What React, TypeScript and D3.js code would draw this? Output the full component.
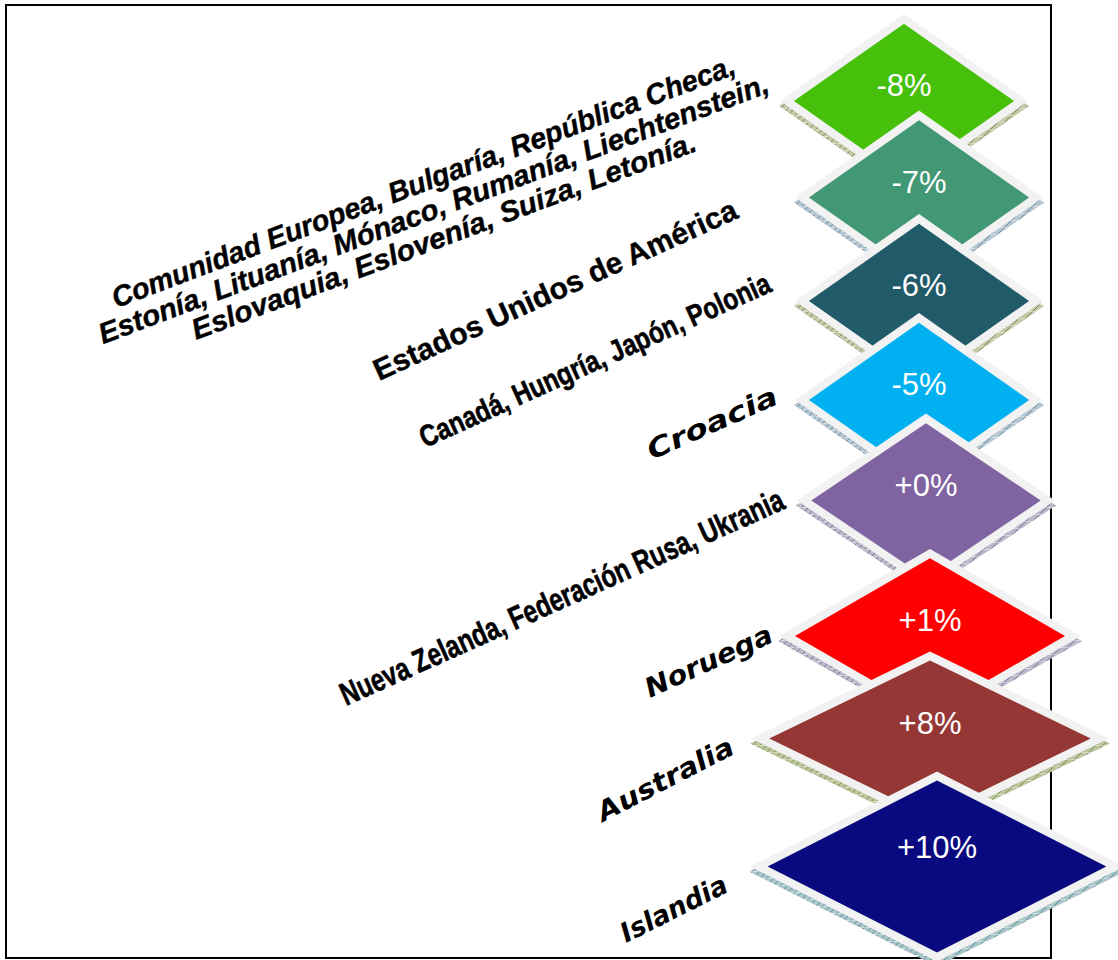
import React from "react";
import * as d3 from "d3";

// ---- data ----
const values = [-8, -7, -6, -5, 0, 1, 8, 10];
const countryGroups: string[][] = [
  [
    "Comunidad Europea, Bulgaría, República Checa,",
    "Estonía, Lituanía, Mónaco, Rumanía, Liechtenstein,",
    "Eslovaquia, Eslovenía, Suiza, Letonía.",
  ],
  ["Estados Unidos de América"],
  ["Canadá, Hungría, Japón, Polonia"],
  ["Croacia"],
  ["Nueva Zelanda, Federación Rusa, Ukrania"],
  ["Noruega"],
  ["Australia"],
  ["Islandia"],
];

// ---- styles ----
const fillColors = ["#46c00a", "#429874", "#215a68", "#00b0f0", "#8064a2", "#ff0000", "#953735", "#0a0a80"];
const sideBase = ["#c4c8a6", "#b5c7d2", "#c4c8a6", "#b5c7d2", "#bdb7ca", "#bdb7ca", "#bac59b", "#a9c5ca"];
const sideLine = ["#7d825c", "#6b8796", "#7d825c", "#6b8796", "#786f90", "#786f90", "#7d8b58", "#5e8b92"];
const borderColor = "#f2f2f2";

const W = 1118;
const H = 960;

// layout scales
const rowX = d3.scaleLinear().domain(d3.range(8)).range([904, 919, 919, 919, 926, 930, 930, 937]);
const rowY = d3.scaleLinear().domain(d3.range(8)).range([101, 197.5, 301, 400, 500.5, 636, 738.5, 866.5]);
const halfW = d3.scaleLinear().domain([-8, -5, 0, 1, 8, 10]).range([124, 124, 129, 151, 179, 187]);
const halfH = d3.scaleLinear().domain([8, 10]).range([87, 95]).clamp(true);
const fmt = (v: number) => d3.format("+d")(v).replace("−", "-") + "%";

type LabelLayout = {
  x: number; y: number; angle: number; size: number; family: string;
  italic: boolean; lengths: number[]; anchor: "start" | "middle"; spacing?: number; stroke?: number;
};
const ARIAL = "'Liberation Sans', Arial, Helvetica, sans-serif";
const NARROW = "'Liberation Sans Narrow', 'Arial Narrow', 'Liberation Sans', Arial, sans-serif";
const WIDE = "'DejaVu Sans', Verdana, sans-serif";
const labelLayout: LabelLayout[] = [
  { x: 437, y: 218, angle: 20.7, size: 29, family: ARIAL, italic: true, lengths: [664, 714, 537], anchor: "middle", spacing: 29, stroke: 0.4 },
  { x: 379, y: 381, angle: 24.4, size: 30, family: ARIAL, italic: false, lengths: [396], anchor: "start", stroke: 0.4 },
  { x: 425, y: 448, angle: 24.3, size: 30, family: NARROW, italic: false, lengths: [382], anchor: "start", stroke: 0.6 },
  { x: 652, y: 460, angle: 24.0, size: 27, family: WIDE, italic: true, lengths: [140], anchor: "start" },
  { x: 346, y: 706, angle: 24.2, size: 32, family: NARROW, italic: false, lengths: [483], anchor: "start", stroke: 0.6 },
  { x: 650, y: 698, angle: 24.5, size: 27, family: WIDE, italic: true, lengths: [137], anchor: "start" },
  { x: 603, y: 822, angle: 27.4, size: 27, family: WIDE, italic: true, lengths: [150], anchor: "start" },
  { x: 626, y: 943, angle: 26.6, size: 27, family: WIDE, italic: true, lengths: [116], anchor: "start" },
];

function rhombus(cx: number, cy: number, hw: number, hh: number) {
  const pts: [number, number][] = [[cx, cy - hh], [cx + hw, cy], [cx, cy + hh], [cx - hw, cy]];
  return d3.line()(pts.concat([pts[0]])) + "Z";
}

export default function App() {
  const border = 8;
  return (
    <div style={{ position: "absolute", left: 0, top: 0 }}>
      <svg width={W} height={H} viewBox={`0 0 ${W} ${H}`} style={{ display: "block", background: "#fff" }}>
        <defs>
          {sideBase.map((c, i) => (
            <pattern key={i} id={`hatch${i}`} patternUnits="userSpaceOnUse" width={7} height={7}>
              <rect width={7} height={7} fill={c} />
              <path d="M0,7 L7,0" stroke={sideLine[i]} strokeWidth={0.9} />
              <path d="M0,3.5 L7,3.5" stroke="#ffffff" strokeOpacity={0.5} strokeWidth={0.8} />
            </pattern>
          ))}
        </defs>
        <rect x={6} y={5} width={1045} height={953} fill="none" stroke="#000" strokeWidth={2} />

        {countryGroups.map((lines, i) => {
          const L = labelLayout[i];
          const n = lines.length;
          return (
            <g key={`lab${i}`} transform={`translate(${L.x},${L.y}) rotate(${-L.angle})`}>
              {lines.map((t, j) => (
                <text
                  key={j}
                  x={0}
                  y={L.spacing ? (j - (n - 1) / 2) * L.spacing : 0}
                  textAnchor={L.anchor}
                  fontFamily={L.family}
                  fontWeight="bold"
                  fontStyle={L.italic ? "italic" : "normal"}
                  fontSize={L.size}
                  textLength={L.lengths[j]}
                  lengthAdjust="spacingAndGlyphs"
                  fill="#000"
                  stroke={L.stroke ? "#000" : "none"}
                  strokeWidth={L.stroke || 0}
                >
                  {t}
                </text>
              ))}
            </g>
          );
        })}

        {values.map((v, i) => {
          const cx = rowX(i);
          const cy = rowY(i);
          const hw = halfW(v);
          const hh = halfH(v);
          const Ld = Math.sqrt(hw * hw + hh * hh);
          const ihw = hw - (border * Ld) / hh;
          const ihh = hh - (border * Ld) / hw;
          return (
            <g key={`d${i}`}>
              <path d={rhombus(cx, cy + 5, hw + 1, hh)} fill={`url(#hatch${i})`} />
              <path d={rhombus(cx, cy, hw, hh)} fill={borderColor} />
              <path d={rhombus(cx, cy, ihw, ihh)} fill={fillColors[i]} />
              <text
                x={cx}
                y={cy - (i === 7 ? 9 : 5)}
                textAnchor="middle"
                fontFamily={ARIAL}
                fontSize={31}
                fill="#fff"
              >
                {fmt(v)}
              </text>
            </g>
          );
        })}
      </svg>
    </div>
  );
}
